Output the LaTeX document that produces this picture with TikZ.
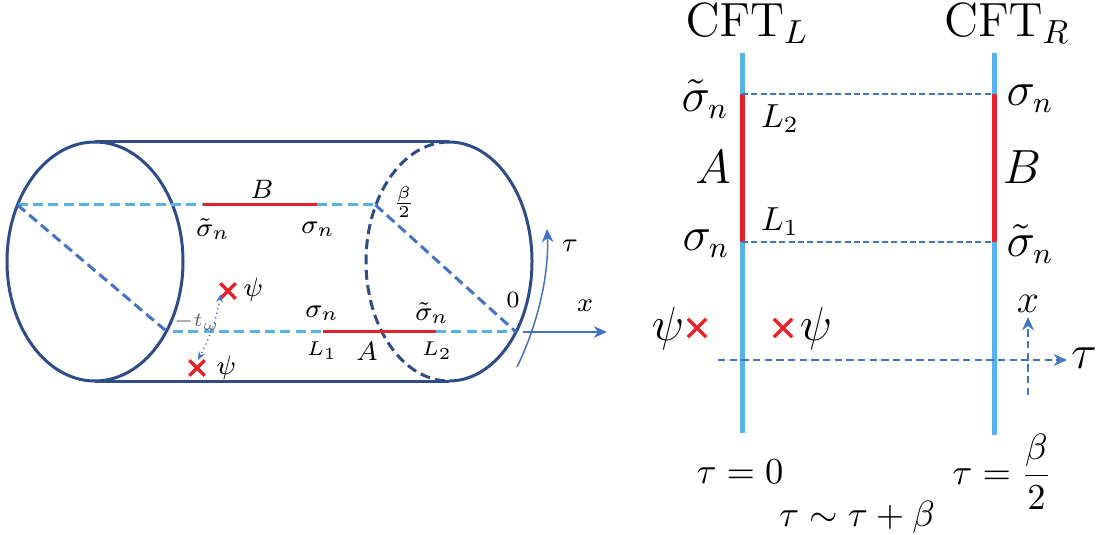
\documentclass[tikz,border=0pt]{standalone}
\usetikzlibrary{arrows.meta,shapes.misc}
\definecolor{navy}{RGB}{46,76,138}
\definecolor{midblue}{RGB}{68,114,196}
\definecolor{lightblue}{RGB}{86,178,232}
\definecolor{redline}{RGB}{232,32,42}
\begin{document}
\begin{tikzpicture}[x=0.3pt,y=-0.3pt,
  cyl/.style={draw=navy,line width=0.9pt},
  cyldash/.style={draw=navy,line width=0.9pt,dash pattern=on 3pt off 1.6pt},
  diag/.style={draw=midblue,line width=0.9pt,dash pattern=on 3pt off 1.6pt},
  lbdash/.style={draw=lightblue,line width=0.9pt,dash pattern=on 3pt off 1.6pt},
  redseg/.style={draw=redline,line width=0.9pt},
  xmark/.style={cross out,draw=redline,line width=1pt,inner sep=0pt,minimum size=#1},
  lbl/.style={inner sep=0pt,font=\fontsize{8}{9}\selectfont},
  sml/.style={inner sep=0pt,font=\fontsize{6.3}{7}\selectfont},
  big/.style={inner sep=0pt,font=\fontsize{13.5}{15}\selectfont},
  lsub/.style={inner sep=0pt,font=\fontsize{10}{12}\selectfont},
  mid/.style={inner sep=0pt,font=\fontsize{10.5}{12}\selectfont},
  cft/.style={inner sep=0pt,font=\fontsize{14.5}{16}\selectfont},
  cftline/.style={draw=lightblue,line width=1.5pt},
  redthick/.style={draw=redline,line width=1.5pt},
  thindash/.style={draw=midblue,line width=0.45pt,dash pattern=on 1.8pt off 1pt},
  axis/.style={draw=midblue,line width=0.6pt,-{Stealth[length=4pt,width=3.5pt]}},
  axisdash/.style={draw=midblue,line width=0.6pt,dash pattern=on 2.2pt off 1.3pt,-{Stealth[length=4pt,width=3.5pt]}}
]
\useasboundingbox (0,0) rectangle (1099,535);

% ---------- left panel: cylinder ----------
\coordinate (lc) at (95,261.5);
\coordinate (rc) at (449,261.5);
\draw[cyl] (lc) ellipse [x radius=26.4pt, y radius=35.85pt];
\draw[cyl] (95,142) coordinate (lt) -- (449,142) coordinate (rt);
\draw[cyl] (95,381) coordinate (lb) -- (449,381) coordinate (rb);
\draw[cyl] (rt) arc[start angle=90, end angle=-90, x radius=24.9pt, y radius=35.85pt];
\draw[cyldash] (rt) arc[start angle=90, end angle=270, x radius=24.9pt, y radius=35.85pt];

% upper line (B)
\coordinate (u0) at (17.5,205);
\coordinate (u1) at (203,205);
\coordinate (u2) at (317,205);
\coordinate (u3) at (375.5,205);
\draw[lbdash] (u0) -- (u1);
\draw[redseg] (u1) -- (u2);
\draw[lbdash] (u2) -- (u3);

% lower line (A)
\coordinate (d0) at (173,332);
\coordinate (d1) at (323,332);
\coordinate (d2) at (436,332);
\coordinate (d3) at (516,332);
\draw[lbdash] (d0) -- (d1);
\draw[redseg] (d1) -- (d2);
\draw[lbdash] (d2) -- (d3);

% diagonals
\coordinate (ld) at (165,330);
\draw[diag] (u0) -- (ld);
\draw[diag] (u3) -- (d3);

% labels
\node[lbl] (B) at (262,189) {$B$};
\node[lbl] (stB) at (213,229) {$\tilde\sigma_n$};
\node[lbl] (sB) at (318,229) {$\sigma_n$};
\node[sml,font=\fontsize{7.5}{8}\selectfont] (b2) at (404,202) {$\frac{\beta}{2}$};
\node[sml,font=\fontsize{7}{8}\selectfont] (zero) at (513,300) {$0$};
\node[lbl] (sA) at (322,313) {$\sigma_n$};
\node[lbl] (stA) at (432,313) {$\tilde\sigma_n$};
\node[sml] (L1) at (322,351) {$L_1$};
\node[lbl] (Al) at (367,351) {$A$};
\node[sml] (L2) at (437,351) {$L_2$};

% psi insertions
\node[xmark=3.6pt] (x1) at (228,291) {};
\node[lbl,anchor=west] (p1) at (243,290) {$\psi$};
\node[xmark=3.6pt] (x2) at (197,368) {};
\node[lbl,anchor=west] (p2) at (216,368) {$\psi$};
\node[sml,text=black!60] (tw) at (197,322) {$-t_\omega$};
\draw[midblue,line width=0.4pt,densely dotted,{Stealth[length=2.5pt,width=2pt]}-{Stealth[length=2.5pt,width=2pt]}]
  (221,294) to[bend left=8] (198,360);

% axes at the right end
\coordinate (xa0) at (523,332);
\coordinate (xa1) at (607,332);
\draw[axis] (xa0) -- (xa1);
\node[lbl] (xlab) at (585,306) {$x$};
\coordinate (ta0) at (517,367);
\coordinate (ta1) at (547,229);
\draw[draw=midblue,line width=0.45pt,-{Stealth[length=4pt,width=3.5pt]}]
  (ta0) .. controls (540,320) and (549,270) .. (ta1);
\node[lbl] (tlab) at (570,246) {$\tau$};

% ---------- right panel ----------
\coordinate (Lt) at (742,53);
\coordinate (Lu) at (742,94);
\coordinate (Ld) at (742,242);
\coordinate (Lb) at (742,433);
\coordinate (Rt) at (994,53);
\coordinate (Ru) at (994,94);
\coordinate (Rd) at (994,242);
\coordinate (Rb) at (994,435);
\draw[cftline] (Lt) -- (Lb);
\draw[cftline] (Rt) -- (Rb);
\draw[redthick] (Lu) -- (Ld);
\draw[redthick] (Ru) -- (Rd);
\draw[thindash] (Lu) -- (Ru);
\draw[thindash] (Ld) -- (Rd);

\node[cft] (cftL) at (747,24) {$\mathrm{CFT}_L$};
\node[cft] (cftR) at (1007,24) {$\mathrm{CFT}_R$};
\node[big] (stL) at (705,99) {$\tilde\sigma_n$};
\node[lsub] (L2r) at (780,119) {$L_2$};
\node[big] (Ar) at (713,167) {$A$};
\node[lsub] (L1r) at (780,222) {$L_1$};
\node[big] (sL) at (706,244) {$\sigma_n$};
\node[big] (sR) at (1030,99) {$\sigma_n$};
\node[big] (Br) at (1022,167) {$B$};
\node[big] (stR) at (1030,244) {$\tilde\sigma_n$};

\node[big] (pl) at (668,329) {$\psi$};
\node[xmark=4.5pt] (xl) at (697,328) {};
\node[xmark=4.5pt] (xr) at (783,328) {};
\node[big] (pr) at (816,329) {$\psi$};

\coordinate (ta) at (718,360);
\coordinate (tb) at (1067,360);
\draw[axisdash] (ta) -- (tb);
\node[big] (tauax) at (1084,358) {$\tau$};
\coordinate (xb) at (1028,395);
\coordinate (xt) at (1028,317);
\draw[axisdash] (xb) -- (xt);
\node[big,font=\fontsize{12.5}{14}\selectfont] (xax) at (1028,304) {$x$};

\node[mid] (t0) at (740,472) {$\tau=0$};
\node[mid] (tb2) at (1002,472) {$\displaystyle\tau=\frac{\beta}{2}$};
\node[mid] (per) at (857,517) {$\tau\sim\tau+\beta$};
\end{tikzpicture}
\end{document}
